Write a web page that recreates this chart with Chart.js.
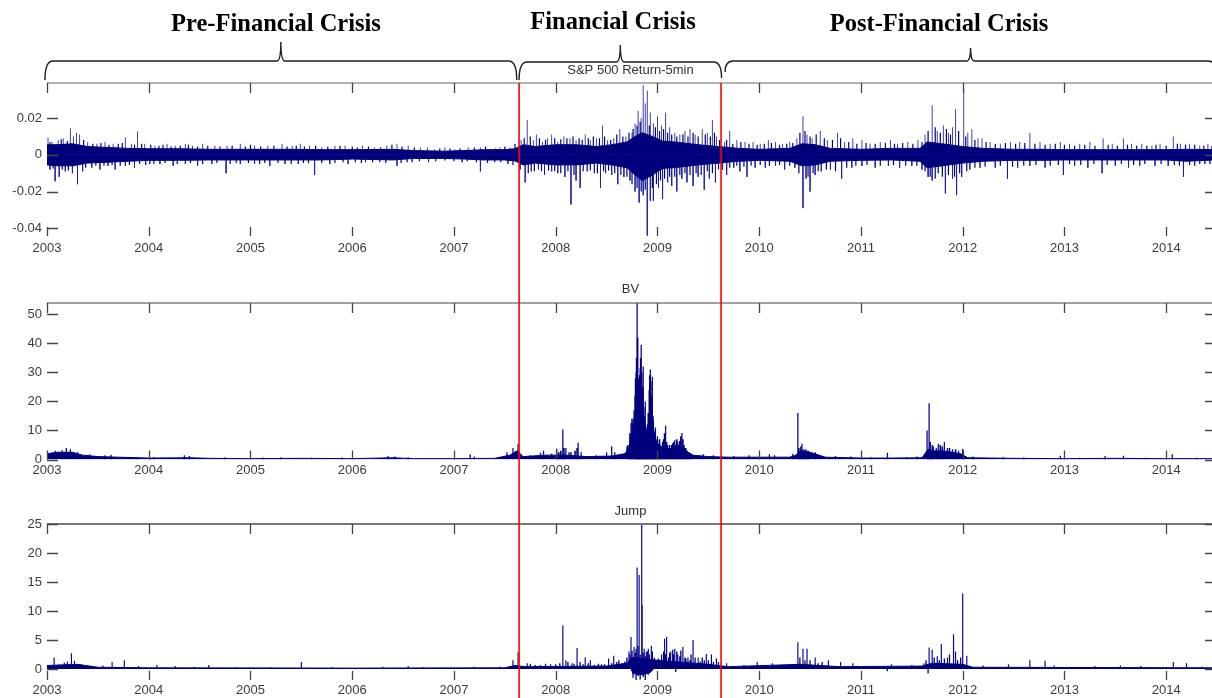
<!DOCTYPE html>
<html><head><meta charset="utf-8">
<script src="https://cdn.jsdelivr.net/npm/chart.js@4.4.0/dist/chart.umd.min.js"></script>
<style>
html,body{margin:0;padding:0;background:#fff;overflow:hidden;width:1212px;height:698px;position:relative}
.w{position:absolute;left:0}
canvas{display:block}
.h{position:absolute;font:bold 24.5px/24px "Liberation Serif","Times New Roman",serif;color:#000;white-space:nowrap;transform:translateX(-50%)}
</style></head><body>
<div class="w" style="top:0"><canvas id="c1" width="1220" height="260"></canvas></div>
<div class="w" style="top:260px"><canvas id="c2" width="1220" height="220"></canvas></div>
<div class="w" style="top:480px"><canvas id="c3" width="1220" height="218"></canvas></div>
<div class="h" id="h0" style="left:276px;top:11px"></div>
<div class="h" id="h1" style="left:613px;top:9px"></div>
<div class="h" id="h2" style="left:939px;top:11px"></div>
<script>
// ---------- labels / ticks ----------
const periodLabels = ['Pre-Financial Crisis','Financial Crisis','Post-Financial Crisis'];
const panelTitles = ['S&P 500 Return-5min','BV','Jump'];
const yearTicks = [2003,2004,2005,2006,2007,2008,2009,2010,2011,2012,2013,2014];
const XMIN = 2003, XMAX = 2014.47;
const crisisLines = [2007.64, 2009.625];
const braceStart = [2002.98, 2007.64, 2009.665];
const braceEnd   = [2007.617, 2009.63, 2014.49];
const retTicks = [-0.04,-0.02,0,0.02];
const retTickLabels = ['-0.04','-0.02','0','0.02'];
const bvTicks = [0,10,20,30,40,50];
const jumpTicks = [0,5,10,15,20,25];

// ---------- S&P 500 5-min return ----------
const retBandX  = [2003.00,2003.10,2003.25,2003.40,2003.60,2003.80,2004.00,2004.30,2004.60,2005.00,2005.40,2005.70,2006.00,2006.40,2006.60,2006.90,2007.10,2007.30,2007.50,2007.60,2007.68,2007.80,2008.00,2008.20,2008.40,2008.55,2008.70,2008.78,2008.85,2008.95,2009.05,2009.20,2009.40,2009.60,2009.80,2010.00,2010.30,2010.42,2010.55,2010.70,2011.00,2011.30,2011.58,2011.65,2011.80,2012.00,2012.20,2012.50,2012.80,2013.00,2013.40,2013.70,2014.00,2014.20,2014.47];
const retBandHi = [0.0055,0.0055,0.006,0.0045,0.004,0.0035,0.0033,0.0033,0.003,0.003,0.003,0.0028,0.0028,0.003,0.0023,0.002,0.0023,0.0028,0.0028,0.0033,0.0055,0.0045,0.0055,0.0055,0.0045,0.0055,0.007,0.010,0.012,0.010,0.0075,0.0068,0.0055,0.0045,0.0035,0.003,0.0035,0.006,0.0055,0.0035,0.003,0.0035,0.0035,0.007,0.006,0.0045,0.0035,0.003,0.003,0.0028,0.0028,0.0028,0.0028,0.003,0.0028];
const retBandLo = [-0.0055,-0.006,-0.006,-0.0045,-0.004,-0.0035,-0.003,-0.003,-0.0028,-0.0028,-0.0028,-0.0028,-0.0023,-0.0028,-0.002,-0.002,-0.0023,-0.0028,-0.0028,-0.0033,-0.0055,-0.0045,-0.0055,-0.0055,-0.0045,-0.0055,-0.007,-0.011,-0.014,-0.011,-0.0075,-0.0068,-0.0055,-0.0045,-0.0035,-0.003,-0.0035,-0.006,-0.0055,-0.0035,-0.003,-0.0028,-0.0035,-0.007,-0.006,-0.0045,-0.0035,-0.003,-0.003,-0.0028,-0.0028,-0.0028,-0.0028,-0.0035,-0.0028];
const retSpikesUp = [[2003.01,0.0094],[2003.05,0.007],[2003.11,0.008],[2003.16,0.009],[2003.23,0.0144],[2003.26,0.010],[2003.29,0.012],[2003.32,0.011],[2003.40,0.007],[2003.49,0.006],[2003.57,0.007],[2003.65,0.006],[2003.77,0.0095],[2003.83,0.006],[2003.89,0.0128],[2003.96,0.006],[2004.06,0.005],[2004.18,0.006],[2004.26,0.005],[2004.36,0.006],[2004.43,0.005],[2004.53,0.006],[2004.65,0.005],[2004.77,0.005],[2004.90,0.006],[2005.04,0.005],[2005.17,0.005],[2005.31,0.006],[2005.41,0.005],[2005.49,0.006],[2005.58,0.005],[2005.70,0.004],[2005.83,0.005],[2005.93,0.005],[2006.10,0.005],[2006.22,0.004],[2006.34,0.005],[2006.44,0.006],[2006.55,0.005],[2006.67,0.004],[2006.74,0.004],[2006.81,0.003],[2006.91,0.004],[2007.01,0.003],[2007.14,0.004],[2007.26,0.004],[2007.37,0.003],[2007.45,0.004],[2007.55,0.004],
[2007.66,0.008],[2007.72,0.019],[2007.78,0.008],[2007.81,0.011],[2007.87,0.007],[2007.92,0.009],[2007.96,0.011],[2008.02,0.007],[2008.08,0.010],[2008.14,0.009],[2008.20,0.008],[2008.29,0.011],[2008.34,0.008],[2008.40,0.009],[2008.46,0.016],[2008.51,0.008],[2008.57,0.009],[2008.63,0.014],[2008.69,0.010],[2008.75,0.012],[2008.78,0.017],[2008.81,0.024],[2008.84,0.020],[2008.86,0.038],[2008.88,0.028],[2008.90,0.035],[2008.93,0.023],[2008.96,0.017],[2009.00,0.021],[2009.04,0.016],[2009.08,0.023],[2009.12,0.015],[2009.17,0.012],[2009.22,0.011],[2009.27,0.013],[2009.32,0.014],[2009.37,0.011],[2009.44,0.014],[2009.49,0.012],[2009.54,0.019],[2009.58,0.010],
[2009.66,0.007],[2009.71,0.013],[2009.78,0.008],[2009.86,0.007],[2009.94,0.007],[2010.01,0.006],[2010.09,0.008],[2010.16,0.007],[2010.23,0.006],[2010.30,0.007],[2010.37,0.009],[2010.43,0.021],[2010.47,0.011],[2010.52,0.009],[2010.60,0.013],[2010.67,0.008],[2010.77,0.012],[2010.84,0.007],[2010.92,0.009],[2011.01,0.008],[2011.09,0.006],[2011.19,0.007],[2011.29,0.008],[2011.36,0.006],[2011.46,0.007],[2011.56,0.008],[2011.63,0.011],[2011.70,0.027],[2011.75,0.013],[2011.81,0.016],[2011.86,0.012],[2011.90,0.015],[2011.93,0.025],[2012.01,0.036],[2012.05,0.012],[2012.09,0.014],[2012.15,0.009],[2012.19,0.009],[2012.27,0.007],[2012.37,0.006],[2012.47,0.007],[2012.56,0.007],[2012.66,0.012],[2012.76,0.007],[2012.86,0.006],[2012.96,0.007],[2013.05,0.006],[2013.15,0.006],[2013.25,0.007],[2013.38,0.009],[2013.47,0.006],[2013.58,0.009],[2013.66,0.006],[2013.76,0.006],[2013.86,0.005],[2013.94,0.006],[2014.07,0.010],[2014.14,0.006],[2014.23,0.006],[2014.33,0.005],[2014.41,0.006]];
const retSpikesDown = [[2003.03,-0.008],[2003.08,-0.0144],[2003.12,-0.012],[2003.18,-0.009],[2003.25,-0.010],[2003.30,-0.016],[2003.35,-0.009],[2003.44,-0.007],[2003.52,-0.008],[2003.60,-0.006],[2003.67,-0.008],[2003.77,-0.006],[2003.86,-0.007],[2004.01,-0.005],[2004.11,-0.005],[2004.24,-0.006],[2004.36,-0.005],[2004.48,-0.006],[2004.62,-0.005],[2004.76,-0.010],[2004.90,-0.005],[2005.04,-0.005],[2005.19,-0.006],[2005.34,-0.005],[2005.47,-0.005],[2005.63,-0.011],[2005.78,-0.005],[2005.96,-0.005],[2006.13,-0.004],[2006.27,-0.004],[2006.44,-0.006],[2006.59,-0.004],[2006.75,-0.004],[2006.91,-0.003],[2007.08,-0.004],[2007.26,-0.009],[2007.40,-0.004],[2007.53,-0.005],
[2007.65,-0.008],[2007.70,-0.015],[2007.76,-0.009],[2007.83,-0.008],[2007.89,-0.011],[2007.96,-0.009],[2008.02,-0.010],[2008.09,-0.012],[2008.15,-0.027],[2008.20,-0.014],[2008.24,-0.018],[2008.31,-0.009],[2008.38,-0.010],[2008.44,-0.018],[2008.49,-0.010],[2008.55,-0.011],[2008.61,-0.016],[2008.67,-0.012],[2008.73,-0.014],[2008.78,-0.020],[2008.82,-0.026],[2008.86,-0.022],[2008.90,-0.044],[2008.93,-0.025],[2008.96,-0.025],[2009.01,-0.018],[2009.05,-0.024],[2009.10,-0.015],[2009.14,-0.017],[2009.19,-0.020],[2009.24,-0.013],[2009.29,-0.015],[2009.35,-0.017],[2009.40,-0.012],[2009.46,-0.019],[2009.51,-0.013],[2009.57,-0.015],
[2009.64,-0.008],[2009.68,-0.011],[2009.75,-0.007],[2009.81,-0.009],[2009.88,-0.012],[2009.96,-0.007],[2010.06,-0.007],[2010.16,-0.006],[2010.25,-0.008],[2010.35,-0.007],[2010.43,-0.029],[2010.46,-0.013],[2010.50,-0.020],[2010.55,-0.011],[2010.61,-0.009],[2010.70,-0.008],[2010.81,-0.013],[2010.91,-0.007],[2011.01,-0.006],[2011.14,-0.007],[2011.27,-0.006],[2011.38,-0.007],[2011.50,-0.006],[2011.60,-0.008],[2011.66,-0.012],[2011.70,-0.014],[2011.76,-0.010],[2011.83,-0.021],[2011.90,-0.013],[2011.94,-0.022],[2011.99,-0.012],[2012.07,-0.008],[2012.17,-0.007],[2012.32,-0.007],[2012.44,-0.013],[2012.54,-0.007],[2012.66,-0.006],[2012.81,-0.007],[2012.99,-0.011],[2013.10,-0.006],[2013.23,-0.007],[2013.37,-0.010],[2013.50,-0.006],[2013.63,-0.007],[2013.74,-0.006],[2013.89,-0.006],[2014.02,-0.006],[2014.17,-0.012],[2014.28,-0.006],[2014.38,-0.005]];
const retMinorUp = [[2003.03,0.007],[2003.14,0.0085],[2003.20,0.0075],[2003.36,0.008],[2003.45,0.006],[2003.53,0.0065],[2003.61,0.0055],[2003.70,0.006],[2003.74,0.0065],[2003.86,0.0055],[2003.93,0.006],[2004.02,0.0055],[2004.10,0.005],[2004.14,0.0055],[2004.22,0.0045],[2004.31,0.005],[2004.39,0.0055],[2004.48,0.0045],[2004.58,0.005],[2004.70,0.0045],[2004.82,0.005],[2004.95,0.0045],[2005.00,0.0055],[2005.10,0.0045],[2005.23,0.005],[2005.36,0.0045],[2005.45,0.005],[2005.53,0.0045],[2005.64,0.005],[2005.76,0.0045],[2005.88,0.005],[2006.00,0.0045],[2006.05,0.004],[2006.16,0.0045],[2006.28,0.004],[2006.39,0.0055],[2006.49,0.0045],[2006.61,0.004],[2006.86,0.0035],[2006.96,0.0035],[2007.06,0.0035],[2007.20,0.004],[2007.31,0.0045],[2007.41,0.0035],[2007.50,0.0045],[2007.60,0.006],
[2007.69,0.009],[2007.75,0.010],[2007.84,0.009],[2007.90,0.008],[2007.99,0.009],[2008.05,0.0085],[2008.11,0.009],[2008.17,0.010],[2008.23,0.009],[2008.26,0.008],[2008.32,0.009],[2008.37,0.010],[2008.43,0.009],[2008.48,0.010],[2008.54,0.008],[2008.60,0.011],[2008.66,0.010],[2008.72,0.012],[2008.76,0.014],[2008.80,0.016],[2008.83,0.018],[2008.92,0.016],[2008.98,0.015],[2009.02,0.013],[2009.06,0.014],[2009.10,0.012],[2009.14,0.011],[2009.19,0.010],[2009.25,0.011],[2009.30,0.010],[2009.35,0.012],[2009.40,0.010],[2009.47,0.011],[2009.52,0.010],[2009.56,0.012],[2009.61,0.008],
[2009.68,0.008],[2009.74,0.006],[2009.82,0.007],[2009.90,0.006],[2009.98,0.0055],[2010.05,0.006],[2010.12,0.0065],[2010.20,0.0055],[2010.27,0.006],[2010.33,0.0065],[2010.40,0.012],[2010.45,0.013],[2010.50,0.010],[2010.56,0.011],[2010.64,0.009],[2010.72,0.008],[2010.80,0.009],[2010.88,0.007],[2010.96,0.006],[2011.05,0.0065],[2011.14,0.006],[2011.24,0.0065],[2011.33,0.006],[2011.41,0.0065],[2011.51,0.006],[2011.60,0.007],[2011.66,0.013],[2011.73,0.015],[2011.78,0.012],[2011.84,0.014],[2011.88,0.011],[2011.96,0.013],[2012.03,0.010],[2012.12,0.008],[2012.23,0.007],[2012.32,0.006],[2012.42,0.0065],[2012.52,0.006],[2012.61,0.0065],[2012.71,0.006],[2012.81,0.0055],[2012.91,0.006],[2013.00,0.0055],[2013.10,0.005],[2013.20,0.0055],[2013.30,0.005],[2013.43,0.0055],[2013.52,0.005],[2013.62,0.0055],[2013.71,0.005],[2013.81,0.005],[2013.90,0.0055],[2014.00,0.005],[2014.11,0.006],[2014.19,0.0055],[2014.28,0.0055],[2014.37,0.005],[2014.45,0.005]];
const retMinorDown = [[2003.06,-0.0075],[2003.15,-0.008],[2003.21,-0.0085],[2003.38,-0.007],[2003.48,-0.006],[2003.56,-0.006],[2003.64,-0.0055],[2003.72,-0.006],[2003.81,-0.0055],[2003.91,-0.005],[2003.97,-0.0055],[2004.05,-0.005],[2004.16,-0.0045],[2004.28,-0.005],[2004.41,-0.0045],[2004.53,-0.005],[2004.67,-0.0045],[2004.80,-0.005],[2004.86,-0.0045],[2004.98,-0.0045],[2005.09,-0.005],[2005.14,-0.0045],[2005.27,-0.0045],[2005.40,-0.005],[2005.52,-0.0045],[2005.57,-0.0045],[2005.70,-0.0045],[2005.83,-0.0045],[2005.91,-0.004],[2006.03,-0.004],[2006.09,-0.0045],[2006.20,-0.004],[2006.33,-0.0045],[2006.48,-0.0045],[2006.54,-0.004],[2006.66,-0.0035],[2006.82,-0.0035],[2007.00,-0.0035],[2007.13,-0.0035],[2007.22,-0.004],[2007.33,-0.0045],[2007.46,-0.004],[2007.58,-0.0055],
[2007.73,-0.010],[2007.79,-0.009],[2007.86,-0.009],[2007.93,-0.0085],[2007.99,-0.009],[2008.05,-0.010],[2008.12,-0.009],[2008.18,-0.011],[2008.27,-0.009],[2008.34,-0.0085],[2008.41,-0.010],[2008.47,-0.009],[2008.52,-0.0085],[2008.58,-0.010],[2008.64,-0.011],[2008.70,-0.012],[2008.75,-0.016],[2008.80,-0.018],[2008.84,-0.020],[2008.88,-0.019],[2008.95,-0.018],[2008.99,-0.016],[2009.03,-0.014],[2009.07,-0.013],[2009.12,-0.012],[2009.17,-0.012],[2009.22,-0.011],[2009.27,-0.010],[2009.32,-0.011],[2009.38,-0.010],[2009.43,-0.011],[2009.49,-0.009],[2009.54,-0.010],[2009.60,-0.008],
[2009.71,-0.007],[2009.78,-0.006],[2009.85,-0.0065],[2009.92,-0.006],[2010.01,-0.0055],[2010.10,-0.006],[2010.20,-0.0055],[2010.30,-0.006],[2010.39,-0.010],[2010.48,-0.012],[2010.53,-0.010],[2010.58,-0.009],[2010.66,-0.008],[2010.75,-0.009],[2010.86,-0.007],[2010.95,-0.006],[2011.06,-0.0055],[2011.19,-0.006],[2011.32,-0.0055],[2011.44,-0.006],[2011.55,-0.006],[2011.63,-0.009],[2011.68,-0.012],[2011.73,-0.013],[2011.80,-0.012],[2011.86,-0.011],[2011.92,-0.012],[2011.97,-0.010],[2012.04,-0.009],[2012.12,-0.007],[2012.22,-0.0065],[2012.37,-0.006],[2012.49,-0.0065],[2012.60,-0.006],[2012.72,-0.0055],[2012.86,-0.006],[2012.94,-0.0055],[2013.05,-0.005],[2013.16,-0.0055],[2013.29,-0.005],[2013.42,-0.0055],[2013.56,-0.005],[2013.68,-0.0055],[2013.79,-0.005],[2013.95,-0.005],[2014.08,-0.0055],[2014.13,-0.006],[2014.23,-0.0055],[2014.33,-0.005],[2014.43,-0.005]];

// ---------- BV ----------
const bvBandX = [2003.00,2003.10,2003.25,2003.35,2003.50,2003.70,2004.00,2004.40,2004.60,2005.00,2005.50,2006.00,2006.40,2006.60,2007.00,2007.40,2007.55,2007.62,2007.68,2007.90,2008.10,2008.30,2008.55,2008.68,2008.72,2008.74,2008.76,2008.78,2008.80,2008.82,2008.84,2008.86,2008.88,2008.90,2008.92,2008.94,2008.96,2008.98,2009.00,2009.05,2009.10,2009.15,2009.20,2009.25,2009.30,2009.35,2009.50,2009.70,2010.00,2010.30,2010.36,2010.40,2010.50,2010.65,2011.00,2011.30,2011.60,2011.66,2011.72,2011.80,2011.90,2011.98,2012.05,2012.50,2013.00,2013.50,2014.00,2014.47];
const bvBandV = [2.0,2.5,2.5,1.5,1.0,0.8,0.5,0.6,0.4,0.3,0.4,0.3,0.6,0.3,0.3,0.4,1.5,3.0,1.0,1.5,1.5,1.0,1.2,2.0,4.0,8.0,12.0,16.0,22.0,18.0,24.0,16.0,11.0,9.0,16.0,20.0,10.0,7.0,5.0,4.0,3.5,4.0,4.5,4.0,2.5,1.5,1.0,0.8,0.8,0.8,1.5,3.0,2.5,0.8,0.5,0.5,0.6,3.5,3.0,3.0,2.5,2.0,0.6,0.4,0.3,0.4,0.3,0.3];
const bvSpikes = [[2003.08,3.0],[2003.15,3.2],[2003.19,4.0],[2003.23,3.5],[2003.30,2.5],[2003.42,1.8],[2003.57,1.5],[2003.63,1.6],[2003.88,0.9],[2004.05,0.8],[2004.35,1.5],[2004.40,1.2],[2004.75,0.8],[2005.12,0.7],[2005.30,0.8],[2005.60,0.6],[2005.90,0.7],[2006.35,1.2],[2006.42,1.0],[2006.55,0.8],[2007.16,1.8],[2007.20,1.0],[2007.52,2.5],[2007.58,4.0],[2007.63,5.3],[2007.75,1.5],[2007.85,2.3],[2007.88,3.0],[2007.96,2.0],[2008.01,3.7],[2008.07,10.3],[2008.10,4.0],[2008.13,2.5],[2008.22,5.8],[2008.25,2.5],[2008.40,1.5],[2008.50,2.5],[2008.55,4.6],[2008.58,2.5],[2008.70,4.5],[2008.74,12.5],[2008.77,17.0],[2008.79,30.0],[2008.80,53.9],[2008.82,26.0],[2008.83,31.5],[2008.84,39.5],[2008.86,32.0],[2008.88,20.0],[2008.90,12.0],[2008.93,31.0],[2008.95,28.5],[2008.96,13.6],[2008.98,11.0],[2009.00,8.0],[2009.05,6.0],[2009.08,11.6],[2009.12,5.0],[2009.17,6.6],[2009.20,6.0],[2009.24,9.1],[2009.28,4.0],[2009.33,2.0],[2009.45,1.8],[2009.55,1.5],[2009.75,1.2],[2009.90,1.5],[2010.10,1.8],[2010.15,1.5],[2010.33,2.0],[2010.38,16.0],[2010.42,5.4],[2010.46,3.5],[2010.55,2.5],[2010.75,1.2],[2010.90,1.0],[2011.10,0.8],[2011.26,2.3],[2011.45,0.8],[2011.55,1.0],[2011.65,10.0],[2011.67,19.4],[2011.70,5.0],[2011.74,4.0],[2011.76,5.4],[2011.82,6.0],[2011.85,4.0],[2011.90,3.5],[2011.96,3.0],[2012.00,3.7],[2012.10,1.0],[2012.40,0.8],[2012.60,0.7],[2012.96,1.3],[2013.15,0.6],[2013.40,1.2],[2013.58,1.3],[2013.80,0.6],[2014.06,1.8],[2014.30,0.6]];
const bvDense = [[2008.71,5],[2008.73,9],[2008.75,14],[2008.76,12],[2008.78,22],[2008.785,28],[2008.795,35],[2008.805,42],[2008.81,28],[2008.815,24],[2008.825,29],[2008.835,35],[2008.845,30],[2008.855,25],[2008.865,18],[2008.87,15],[2008.875,13],[2008.885,11],[2008.895,9],[2008.905,12],[2008.91,16],[2008.92,24],[2008.925,29],[2008.935,27],[2008.94,22],[2008.945,18],[2008.955,15],[2008.965,10],[2008.975,9],[2008.985,7],[2008.99,6],[2009.01,5.5],[2009.02,7],[2009.03,5],[2009.04,4.5],[2009.06,7],[2009.07,9],[2009.09,6],[2009.10,5],[2009.11,4],[2009.14,5],[2009.15,5.5],[2009.16,6],[2009.18,5],[2009.19,7],[2009.21,5],[2009.22,6.5],[2009.23,8],[2009.25,7],[2009.26,5],[2009.27,4],[2009.29,3],[2009.31,2.5],[2008.03,2.5],[2008.05,3.0],[2008.08,4.0],[2008.15,2.5],[2008.19,3.0],[2008.21,4.0],[2010.39,4.0],[2010.41,4.5],[2010.44,3.5],[2010.48,3.0],[2011.68,6.0],[2011.71,4.5],[2011.78,5.0],[2011.80,4.5],[2011.87,4.0],[2011.93,3.5]];

// ---------- Jump ----------
const jumpBandX = [2003.00,2003.30,2003.50,2004.00,2006.00,2007.50,2007.60,2007.70,2008.50,2008.70,2008.75,2009.00,2009.50,2009.70,2010.40,2010.80,2011.60,2011.70,2012.00,2012.10,2014.47];
const jumpBandV = [0.6,0.8,0.3,0.2,0.15,0.2,0.6,0.4,0.5,1.0,2.0,1.5,0.8,0.4,0.8,0.4,0.5,1.0,0.8,0.3,0.2];
const jumpNegBandX = [2008.74,2008.76,2008.85,2008.93,2008.96];
const jumpNegBandV = [0,-0.8,-1.0,-0.6,0];
const jumpSpikes = [[2003.03,0.6],[2003.07,2.0],[2003.12,0.8],[2003.17,1.1],[2003.20,1.3],[2003.24,2.7],[2003.27,1.4],[2003.33,0.8],[2003.45,0.5],[2003.55,0.6],[2003.64,1.2],[2003.76,1.5],[2003.90,0.5],[2004.08,0.7],[2004.26,0.5],[2004.45,0.4],[2004.59,0.7],[2004.85,0.3],[2005.20,0.3],[2005.50,1.2],[2005.80,0.3],[2006.30,0.4],[2006.55,0.5],[2006.70,0.3],[2007.20,0.4],[2007.45,0.4],[2007.58,1.5],[2007.63,2.9],[2007.72,1.0],[2007.85,0.7],[2007.95,0.8],[2008.07,7.5],[2008.10,1.5],[2008.16,1.0],[2008.21,3.6],[2008.29,2.0],[2008.34,1.5],[2008.45,0.8],[2008.52,1.8],[2008.57,2.3],[2008.65,1.0],[2008.72,3.0],[2008.74,5.5],[2008.77,3.8],[2008.80,17.5],[2008.82,16.2],[2008.845,25.0],[2008.85,11.0],[2008.87,3.5],[2008.89,3.0],[2008.91,3.5],[2008.94,4.0],[2008.97,2.0],[2009.04,2.5],[2009.07,5.2],[2009.09,5.5],[2009.13,3.0],[2009.17,3.5],[2009.20,2.5],[2009.25,3.8],[2009.30,2.0],[2009.35,5.0],[2009.40,2.0],[2009.48,2.6],[2009.53,2.5],[2009.60,1.2],[2009.68,1.0],[2009.85,0.7],[2009.98,1.2],[2010.13,1.0],[2010.20,0.6],[2010.38,4.6],[2010.43,3.5],[2010.47,3.5],[2010.55,2.0],[2010.68,1.5],[2010.80,1.2],[2010.92,1.0],[2011.15,0.5],[2011.30,0.8],[2011.50,0.7],[2011.62,1.0],[2011.67,3.7],[2011.70,3.3],[2011.75,2.2],[2011.79,4.3],[2011.85,2.0],[2011.91,6.0],[2011.93,3.0],[2012.00,13.0],[2012.04,2.3],[2012.20,0.6],[2012.45,0.8],[2012.66,1.5],[2012.81,1.4],[2012.90,0.6],[2013.30,0.5],[2013.55,0.6],[2013.75,0.5],[2014.07,1.2],[2014.20,1.0],[2014.35,0.4]];
const jumpDense = [[2008.60,1.2],[2008.62,1.5],[2008.68,1.3],[2008.70,2.0],[2008.73,2.5],[2008.75,3.2],[2008.76,2.0],[2008.78,2.8],[2008.79,3.5],[2008.81,4.0],[2008.83,2.5],[2008.86,2.8],[2008.88,2.2],[2008.90,3.0],[2008.92,2.5],[2008.95,3.0],[2008.96,1.5],[2008.99,1.2],[2009.01,1.8],[2009.03,1.5],[2009.06,3.0],[2009.08,2.5],[2009.11,2.0],[2009.12,2.8],[2009.15,3.3],[2009.16,2.5],[2009.19,3.0],[2009.22,2.2],[2009.23,3.2],[2009.27,2.0],[2009.28,1.8],[2009.32,1.5],[2009.33,2.5],[2009.37,2.0],[2009.42,1.3],[2009.44,2.0],[2009.46,1.5],[2009.50,1.5],[2009.55,1.2],[2009.58,1.8],[2007.75,0.9],[2007.80,0.7],[2007.90,0.9],[2008.00,0.8],[2008.04,1.0],[2008.12,1.2],[2008.18,0.9],[2008.24,1.2],[2008.27,0.8],[2008.32,1.0],[2008.38,0.7],[2008.42,0.9],[2008.48,0.8],[2008.55,1.0],[2010.40,2.0],[2010.45,1.5],[2010.50,1.5],[2010.58,1.0],[2010.62,1.2],[2011.64,1.5],[2011.72,2.0],[2011.77,1.5],[2011.82,1.8],[2011.87,2.5],[2011.95,1.5],[2011.98,2.0]];
const jumpSpikesNeg = [[2008.76,-1.5],[2008.79,-1.9],[2008.81,-1.2],[2008.83,-1.8],[2008.86,-1.4],[2008.88,-1.9],[2008.91,-1.0],[2009.18,-0.5],[2011.26,-0.4],[2011.66,-0.8]];

// ---------- helpers ----------
document.getElementById('h0').textContent = periodLabels[0];
document.getElementById('h1').textContent = periodLabels[1];
document.getElementById('h2').textContent = periodLabels[2];

const NAVY = '#00007c';
const SPIKE = 'rgba(30,30,165,0.85)';
const FONT = '"Liberation Sans", Arial, sans-serif';
const TXT = '#3c3c3c';

function band(xs, vs){ return {type:'line', data: xs.map((x,i)=>({x, y:vs[i]})), borderColor:NAVY, backgroundColor:NAVY, borderWidth:1, pointRadius:0, fill:'origin', tension:0}; }
function spikes(list, color, w){ const d=[]; list.forEach(p=>{ d.push({x:p[0],y:0},{x:p[0],y:p[1]},{x:p[0],y:null}); }); return {type:'line', data:d, borderColor:color||SPIKE, borderWidth:w||1, pointRadius:0, fill:false, spanGaps:false}; }

const deco = {
  id:'deco',
  afterDraw(chart, args, o){
    const ctx = chart.ctx, a = chart.chartArea, xs = chart.scales.x, ys = chart.scales.y;
    ctx.save();
    ctx.strokeStyle = o.borderColor || '#555'; ctx.lineWidth = o.borderWidth || 1.2;
    ctx.beginPath(); ctx.moveTo(a.left, a.top); ctx.lineTo(a.right+2, a.top); ctx.stroke();
    ctx.strokeStyle = '#444'; ctx.lineWidth = 1.3;
    yearTicks.forEach(v=>{ const x = Math.round(xs.getPixelForValue(v))+0.5;
      ctx.beginPath(); ctx.moveTo(x, a.top); ctx.lineTo(x, a.top+10); ctx.moveTo(x, a.bottom); ctx.lineTo(x, a.bottom-9); ctx.stroke(); });
    o.yt.forEach(v=>{ const y = Math.round(ys.getPixelForValue(v))+0.5;
      ctx.beginPath(); ctx.moveTo(a.left, y); ctx.lineTo(a.left+11, y); ctx.moveTo(a.right-9, y); ctx.lineTo(a.right, y); ctx.stroke(); });
    ctx.strokeStyle = 'rgb(255,0,0)'; ctx.lineWidth = 1.6; ctx.globalAlpha = 1;
    crisisLines.forEach(d=>{ const x = xs.getPixelForValue(d);
      ctx.beginPath(); ctx.moveTo(x, o.redTop); ctx.lineTo(x, chart.height); ctx.stroke(); });
    ctx.fillStyle = '#333'; ctx.font = '13px ' + FONT; ctx.textAlign='center'; ctx.textBaseline='middle';
    ctx.fillText(o.title, (a.left+a.right)/2, o.titleY);
    if (o.braces){
      ctx.strokeStyle = '#1e1e1e'; ctx.lineWidth = 1.4;
      const geo = [[80,61,42,80],[80,62,45,78],[72,61,48,72]];
      braceStart.forEach((s,i)=>{
        const x0 = xs.getPixelForValue(s), x1 = xs.getPixelForValue(braceEnd[i]), xm=(x0+x1)/2;
        const [yb0, yl, yt, yb1] = geo[i];
        ctx.beginPath();
        ctx.moveTo(x0, yb0);
        ctx.quadraticCurveTo(x0, yl, x0+8, yl);
        ctx.lineTo(xm-4, yl);
        ctx.quadraticCurveTo(xm, yl, xm, yt);
        ctx.quadraticCurveTo(xm, yl, xm+4, yl);
        ctx.lineTo(x1-8, yl);
        ctx.quadraticCurveTo(x1, yl, x1, yb1);
        ctx.stroke();
      });
    }
    ctx.restore();
  }
};

function makeChart(id, datasets, ymin, ymax, yt, ylab, padTop, axisH, labPad, deco_opts){
  return new Chart(document.getElementById(id), {
    type:'line',
    data:{datasets},
    options:{
      responsive:false, animation:false, devicePixelRatio:1,
      layout:{padding:{top:padTop, right:6, left:0, bottom:0}},
      plugins:{legend:{display:false}, tooltip:{enabled:false}, deco:deco_opts},
      scales:{
        x:{type:'linear', min:XMIN, max:XMAX, offset:false,
           afterBuildTicks:s=>{ s.ticks = yearTicks.map(v=>({value:v})); },
           afterFit:s=>{ s.height = axisH; },
           ticks:{callback:v=>String(v), font:{family:FONT,size:13}, color:TXT, padding:labPad, maxRotation:0, autoSkip:false},
           grid:{display:false, drawTicks:false}, border:{display:false}},
        y:{min:ymin, max:ymax,
           afterBuildTicks:s=>{ s.ticks = yt.map(v=>({value:v})); },
           afterFit:s=>{ s.width = 47; },
           ticks:{callback:(v)=>{ const i = yt.indexOf(v); return i>=0 ? ylab[i] : ''; }, font:{family:FONT,size:13}, color:TXT, padding:5},
           grid:{display:false, drawTicks:false}, border:{display:false}}
      }
    },
    plugins:[deco]
  });
}

makeChart('c1', [
  band(retBandX, retBandHi), band(retBandX, retBandLo),
  spikes(retMinorUp, NAVY, 1.2), spikes(retMinorDown, NAVY, 1.2),
  spikes(retSpikesUp), spikes(retSpikesDown),
  {type:'line', data:[{x:XMIN,y:0},{x:XMAX,y:0}], borderColor:'#000', borderWidth:1, pointRadius:0, fill:false}
], -0.0442, 0.0391, retTicks, retTickLabels, 83, 24, 5, {yt:retTicks, redTop:83, title:panelTitles[0], titleY:70, braces:true, borderColor:'#666', borderWidth:1.2});

makeChart('c2', [
  band(bvBandX, bvBandV), spikes(bvDense, NAVY, 1.6), spikes(bvSpikes, '#0a0a96', 1.3)
], 0, 53.9, bvTicks, bvTicks.map(String), 43, 20.5, 3, {yt:bvTicks, redTop:0, title:panelTitles[1], titleY:29, braces:false, borderColor:'#444', borderWidth:1.2});

makeChart('c3', [
  band(jumpBandX, jumpBandV), band(jumpNegBandX, jumpNegBandV), spikes(jumpDense, NAVY, 1.3), spikes(jumpSpikes, '#0a0a96', 1.2), spikes(jumpSpikesNeg, NAVY, 1.3)
], -1.9, 25, jumpTicks, jumpTicks.map(String), 44, 18, 3, {yt:jumpTicks, redTop:0, title:panelTitles[2], titleY:31, braces:false, borderColor:'#777', borderWidth:2});
</script>
</body></html>
